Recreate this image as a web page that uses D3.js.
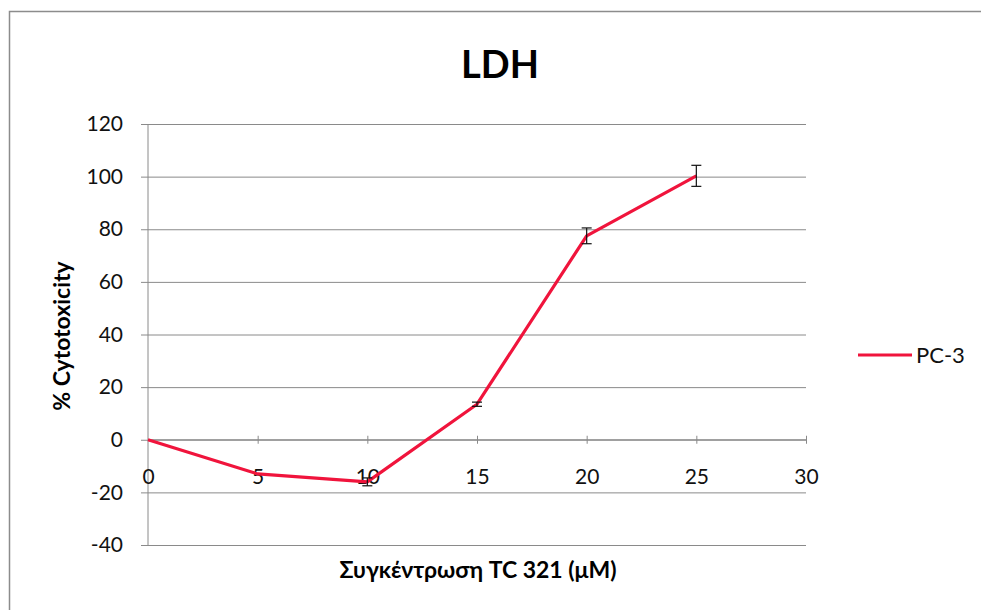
<!DOCTYPE html>
<html>
<head>
<meta charset="utf-8">
<script src="https://cdn.jsdelivr.net/npm/d3@7"></script>
<style>
  html, body { margin: 0; padding: 0; background: #fff; }
  svg { display: block; }
  text { font-family: Lato, "Open Sans", "DejaVu Sans", sans-serif; }
</style>
</head>
<body>
<svg id="chart" width="981" height="610"></svg>
<script>
// LDH cytotoxicity assay, PC-3 cells
const concentrations = [0, 5, 10, 15, 20, 25];
const cytotoxicity   = [0, -13, -16, 13.5, 77.5, 100.3];
const errors         = [0, 0, 1.5, 0.8, 3, 4];
const xTicks = [0, 5, 10, 15, 20, 25, 30];
const yTicks = [-40, -20, 0, 20, 40, 60, 80, 100, 120];
const seriesName = "PC-3";
const titleText = "LDH";
const xTitle = "Συγκέντρωση TC 321 (μM)";
const yTitle = "% Cytotoxicity";

const svg = d3.select("#chart");
const fmt = d => String(d);

// chart frame
svg.append("path")
  .attr("d", "M9.5,610 V11.5 H981")
  .attr("fill", "none")
  .attr("stroke", "#8c8c8c")
  .attr("stroke-width", 1.5);

const x = d3.scaleLinear().domain([0, 30]).range([148, 806]);
const y = d3.scaleLinear().domain([-40, 120]).range([545, 124]);

// horizontal gridlines with outer tick marks
const yAxis = d3.axisLeft(y).tickValues(yTicks).tickSize(-(806 - 148)).tickPadding(25).tickFormat(fmt);
const gy = svg.append("g").attr("transform", "translate(148,0)").call(yAxis);
gy.select(".domain").remove();
gy.selectAll(".tick line").attr("stroke", "#8a8a8a").attr("x1", -7);
gy.selectAll(".tick text")
  .attr("font-size", 21).attr("fill", "#111")
  .style("font-family", "Lato, 'Open Sans', sans-serif");

// vertical axis line
svg.append("line")
  .attr("x1", 148).attr("x2", 148).attr("y1", y(120)).attr("y2", y(-40))
  .attr("stroke", "#8a8a8a");

// horizontal axis crossing at zero
const xAxis = d3.axisBottom(x).tickValues(xTicks).tickSize(5).tickPadding(24).tickFormat(fmt);
const gx = svg.append("g").attr("transform", `translate(0,${y(0)})`).call(xAxis);
gx.select(".domain").attr("stroke", "#8a8a8a").attr("d", `M${x(0)},0H${x(30)}`);
gx.selectAll(".tick line").attr("stroke", "#8a8a8a").attr("y1", -4).attr("y2", 4);
gx.selectAll(".tick").filter(d => d === 0).select("line").remove();
gx.selectAll(".tick text")
  .attr("font-size", 21).attr("fill", "#111")
  .style("font-family", "Lato, 'Open Sans', sans-serif");

// data line
const pts = concentrations.map((c, i) => ({ c, v: cytotoxicity[i], e: errors[i] }));
svg.append("path")
  .datum(pts)
  .attr("fill", "none")
  .attr("stroke", "#f0143c")
  .attr("stroke-width", 3.2)
  .attr("stroke-linejoin", "round")
  .attr("d", d3.line().x(d => x(d.c)).y(d => y(d.v)));

// error bars
const eb = svg.append("g").attr("stroke", "#111").attr("stroke-width", 1.2);
pts.filter(d => d.e > 0).forEach(d => {
  const cx = x(d.c);
  eb.append("line").attr("x1", cx).attr("x2", cx).attr("y1", y(d.v + d.e)).attr("y2", y(d.v - d.e));
  eb.append("line").attr("x1", cx - 5).attr("x2", cx + 5).attr("y1", y(d.v + d.e)).attr("y2", y(d.v + d.e));
  eb.append("line").attr("x1", cx - 5).attr("x2", cx + 5).attr("y1", y(d.v - d.e)).attr("y2", y(d.v - d.e));
});

// title
svg.append("text")
  .attr("x", 500).attr("y", 78)
  .attr("text-anchor", "middle")
  .attr("font-size", 38).attr("font-weight", "bold").attr("fill", "#000")
  .text(titleText);

// axis titles
svg.append("text")
  .attr("x", 478).attr("y", 578)
  .attr("text-anchor", "middle")
  .attr("font-size", 23).attr("font-weight", "bold").attr("fill", "#000")
  .text(xTitle);

svg.append("text")
  .attr("transform", "translate(70,336) rotate(-90)")
  .attr("text-anchor", "middle")
  .attr("font-size", 23).attr("font-weight", "bold").attr("fill", "#000")
  .text(yTitle);

// legend
svg.append("line")
  .attr("x1", 858).attr("x2", 912).attr("y1", 355).attr("y2", 355)
  .attr("stroke", "#f0143c").attr("stroke-width", 3.2);
svg.append("text")
  .attr("x", 916).attr("y", 363)
  .attr("font-size", 22).attr("fill", "#111")
  .text(seriesName);
</script>
</body>
</html>
